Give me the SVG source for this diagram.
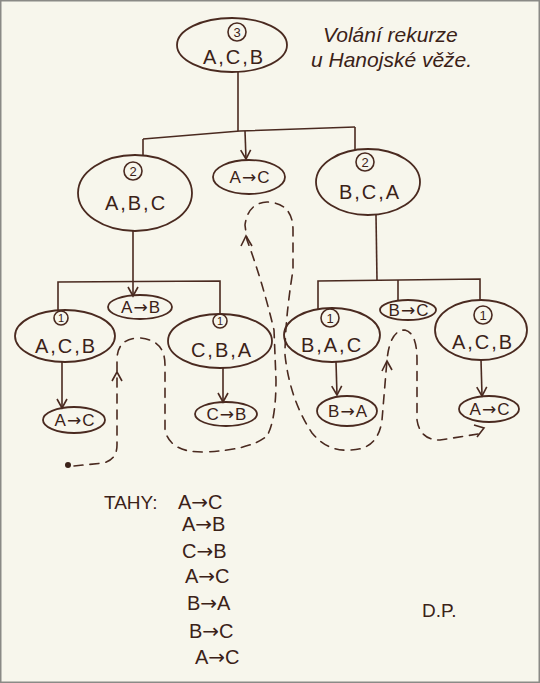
<svg xmlns="http://www.w3.org/2000/svg" width="540" height="683" viewBox="0 0 540 683">
<style>
.n{fill:none;stroke:#4a2a20;stroke-width:1.8}
.c{fill:none;stroke:#4a2a20;stroke-width:1.6}
.d{fill:none;stroke:#4a2a20;stroke-width:1.6;stroke-dasharray:9 7;stroke-linecap:round}
.t{font-family:"Liberation Sans",Arial,sans-serif;fill:#3b2218;text-anchor:middle}
.lab{font-size:20px;letter-spacing:2px}
.mv{font-size:17px;letter-spacing:1px}
.ar{font-family:"DejaVu Sans",sans-serif}
.num{font-size:13px}
.hw{font-family:"Liberation Sans",Arial,sans-serif;font-style:italic;fill:#3b2218}
.pl{font-family:"Liberation Sans",Arial,sans-serif;fill:#3b2218}
</style>
<defs>
<marker id="ah" viewBox="0 0 12 12" refX="10" refY="6" markerWidth="12" markerHeight="12" markerUnits="userSpaceOnUse" orient="auto">
<path d="M1,1 L10,6 L1,11" fill="none" stroke="#4a2a20" stroke-width="1.6"/>
</marker>
</defs>
<rect x="0.75" y="0.75" width="538.5" height="681.5" fill="#f7f6ec" stroke="#8a8a86" stroke-width="1.5"/>

<g id="connectors">
<line class="c" x1="238" y1="72" x2="238" y2="131"/>
<polyline class="c" points="143,139 240,131 355,127"/>
<line class="c" x1="143" y1="139" x2="143" y2="156"/>
<line class="c" x1="245" y1="131" x2="246" y2="159" marker-end="url(#ah)"/>
<line class="c" x1="355" y1="127" x2="355" y2="150"/>
<line class="c" x1="133" y1="231" x2="133" y2="296" marker-end="url(#ah)"/>
<polyline class="c" points="58,311 58,282 220,281 220,314"/>
<line class="c" x1="376" y1="215" x2="377" y2="280"/>
<polyline class="c" points="318,309 318,281 480,279 480,301"/>
<line class="c" x1="398" y1="280" x2="398" y2="300"/>
<line class="c" x1="62" y1="362" x2="62" y2="408" marker-end="url(#ah)"/>
<line class="c" x1="223" y1="367" x2="223" y2="402" marker-end="url(#ah)"/>
<line class="c" x1="336" y1="362" x2="337" y2="395" marker-end="url(#ah)"/>
<line class="c" x1="481" y1="360" x2="482" y2="396" marker-end="url(#ah)"/>
<circle cx="68" cy="465" r="3" fill="#3b2218"/>
<path class="d" d="M74,466 L103,463 Q117,460 117,445 L117,360 Q117,338 140,338 Q165,340 165,365 L165,430 Q170,453 205,452 Q250,450 267,436 Q276,420 276,380 L274,330 Q262,280 247,240 L245,225 Q248,203 267,202 Q293,203 293,230 L293,270 Q285,320 285,355 Q290,400 312,433 Q328,452 350,450 Q378,450 382,420 L387,360 Q390,330 405,330 Q417,333 417,360 L417,420 Q420,440 440,440 L478,434"/>
<polyline class="c" points="112,381 117,372 122,381"/>
<polyline class="c" points="241,246 246,236 252,246"/>
<polyline class="c" points="382,371 387,361 392,370"/>
<polyline class="c" points="474,425 484,428 477,437"/>
</g>

<g id="root">
<ellipse class="n" cx="232" cy="45" rx="55" ry="27"/>
<circle class="c" cx="237" cy="32" r="9"/>
<text class="t num" x="237" y="37">3</text>
<text class="t lab" x="234" y="64">A,C,B</text>
</g>

<g id="n2left">
<ellipse class="n" cx="135" cy="193" rx="57" ry="38"/>
<circle class="c" cx="133" cy="171" r="9"/>
<text class="t num" x="133" y="176">2</text>
<text class="t lab" x="136" y="210">A,B,C</text>
</g>

<g id="m1">
<ellipse class="n" cx="249" cy="177" rx="36" ry="17"/>
<text class="t mv" x="250" y="183">A<tspan class="ar">→</tspan>C</text>
</g>

<g id="n2right">
<ellipse class="n" cx="368" cy="182" rx="52" ry="33"/>
<circle class="c" cx="365" cy="162" r="9"/>
<text class="t num" x="365" y="167">2</text>
<text class="t lab" x="370" y="199">B,C,A</text>
</g>

<g id="n1a">
<ellipse class="n" cx="65" cy="336" rx="50" ry="26"/>
<circle class="c" cx="61" cy="318" r="7"/>
<text class="t" x="61" y="322" font-size="11">1</text>
<text class="t lab" x="66" y="353">A,C,B</text>
</g>

<g id="m2">
<ellipse class="n" cx="140" cy="307" rx="32" ry="12"/>
<text class="t mv" x="141" y="313">A<tspan class="ar">→</tspan>B</text>
</g>

<g id="n1b">
<ellipse class="n" cx="220" cy="341" rx="52" ry="27"/>
<circle class="c" cx="220" cy="321" r="7"/>
<text class="t" x="220" y="325" font-size="11">1</text>
<text class="t lab" x="222" y="357">C,B,A</text>
</g>

<g id="n1c">
<ellipse class="n" cx="332" cy="335" rx="48" ry="27"/>
<circle class="c" cx="330" cy="318" r="9"/>
<text class="t num" x="330" y="323">1</text>
<text class="t lab" x="332" y="352">B,A,C</text>
</g>

<g id="m4">
<ellipse class="n" cx="408" cy="310" rx="28" ry="10"/>
<text class="t mv" x="409" y="316">B<tspan class="ar">→</tspan>C</text>
</g>

<g id="n1d">
<ellipse class="n" cx="481" cy="330" rx="46" ry="30"/>
<circle class="c" cx="483" cy="315" r="9"/>
<text class="t num" x="483" y="320">1</text>
<text class="t lab" x="483" y="349">A,C,B</text>
</g>

<g id="leaf1">
<ellipse class="n" cx="74" cy="420" rx="31" ry="13"/>
<text class="t mv" x="75" y="426">A<tspan class="ar">→</tspan>C</text>
</g>

<g id="leaf2">
<ellipse class="n" cx="226" cy="414" rx="31" ry="12"/>
<text class="t mv" x="227" y="420">C<tspan class="ar">→</tspan>B</text>
</g>

<g id="leaf3">
<ellipse class="n" cx="347" cy="411" rx="30" ry="15"/>
<text class="t mv" x="348" y="417">B<tspan class="ar">→</tspan>A</text>
</g>

<g id="leaf4">
<ellipse class="n" cx="489" cy="409" rx="30" ry="13"/>
<text class="t mv" x="490" y="415">A<tspan class="ar">→</tspan>C</text>
</g>

<g id="title">
<text class="hw" x="323" y="42" font-size="21">Volání rekurze</text>
<text class="hw" x="311" y="67" font-size="21">u Hanojské věže.</text>
</g>

<g id="moves">
<text class="pl" x="104" y="509" font-size="19">TAHY:</text>
<g class="pl" font-size="20">
<text x="178" y="509">A<tspan class="ar">→</tspan>C</text>
<text x="182" y="531">A<tspan class="ar">→</tspan>B</text>
<text x="182" y="558">C<tspan class="ar">→</tspan>B</text>
<text x="185" y="583">A<tspan class="ar">→</tspan>C</text>
<text x="187" y="610">B<tspan class="ar">→</tspan>A</text>
<text x="189" y="638">B<tspan class="ar">→</tspan>C</text>
<text x="195" y="664">A<tspan class="ar">→</tspan>C</text>
</g>
<text class="pl" x="422" y="617" font-size="19">D.P.</text>
</g>
</svg>
